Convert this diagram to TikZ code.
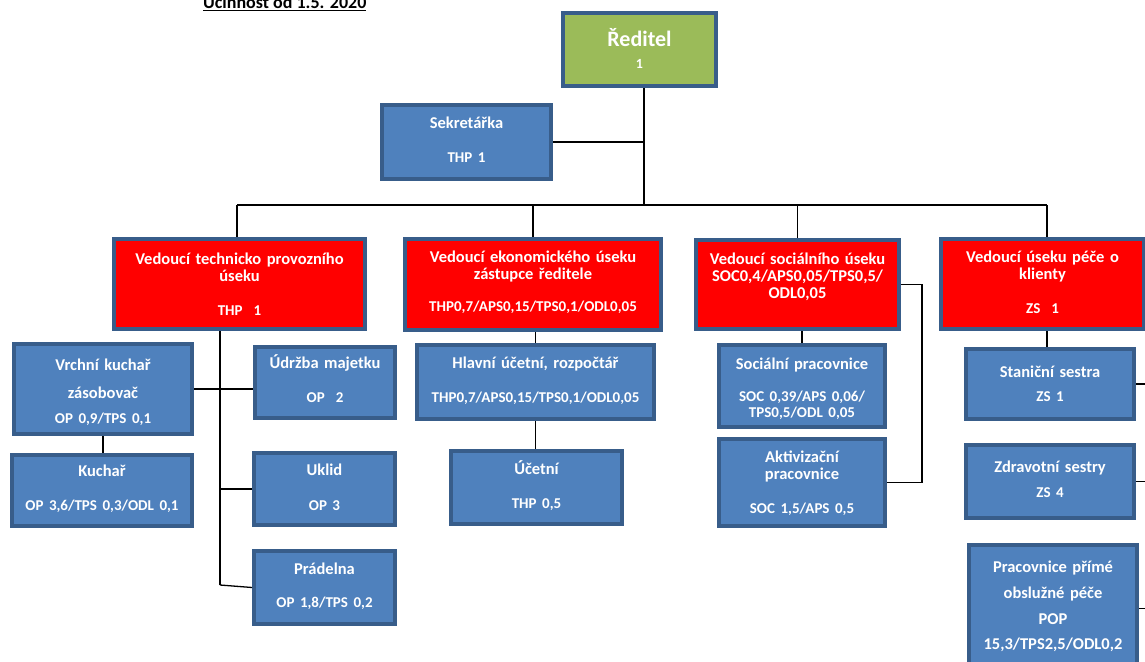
\documentclass[tikz,border=0pt]{standalone}
\usepackage{fontspec}
\setmainfont{Carlito}
\usepackage{tikz}
\definecolor{unitblue}{RGB}{79,129,189}
\definecolor{rimblue}{RGB}{56,93,138}
\definecolor{chiefgreen}{RGB}{155,187,89}
\newcommand{\detail}[1]{{\fontsize{15}{17}\selectfont #1}}

\begin{document}
\begin{tikzpicture}[x=1pt,y=-1pt,
  unit/.style={draw=rimblue, line width=4pt, fill=unitblue, text=white,
    anchor=north west, inner sep=0pt, align=center, text height=23pt,
    font=\fontsize{16.5}{17}\selectfont\bfseries},
  head/.style={unit, fill=red},
  chief/.style={unit, fill=chiefgreen},
  link/.style={line width=1.3pt}]
\useasboundingbox (0,0) rectangle (1145,661);

\node[anchor=base west, inner sep=0pt, font=\fontsize{18}{20}\selectfont\bfseries] (start) at (203,9) {\underline{Účinnost od 1.5. 2020}};

\node[chief, text width=153pt, text height=34pt, text depth=39pt, font=\fontsize{14}{22}\selectfont\bfseries] (dir) at (561,11) {{\fontsize{22}{22}\selectfont Ředitel}\\1};
\node[unit, text width=169pt, text depth=51pt] (sek) at (380,103) {Sekretářka\\[17pt]\detail{THP 1}};

\node[head, text width=251pt, text height=25pt, text depth=65pt] (tech) at (112,237) {Vedoucí technicko provozního\\úseku\\[17pt]\detail{THP~~1}};
\node[head, text width=256pt, text depth=68pt] (eko) at (403,237) {Vedoucí ekonomického úseku\\zástupce ředitele\\[15pt]\detail{THP0,7/APS0,15/TPS0,1/ODL0,05}};
\node[head, text width=203pt, text height=24pt, text depth=65pt] (soc) at (694,238) {Vedoucí sociálního úseku\\SOC0,4/APS0,05/TPS0,5/\\ODL0,05};
\node[head, text width=203pt, text depth=67pt] (pece) at (939,237) {Vedoucí úseku péče o\\klienty\\[17pt]\detail{ZS~~1}};

\node[unit, text width=178pt, text height=26pt, text depth=64pt] (vrchni) at (12,342) {Vrchní kuchař\\[11pt]zásobovač\\[8pt]\detail{OP 0,9/TPS 0,1}};
\node[unit, text width=180pt, text height=21pt, text depth=50pt] (kuchar) at (10,453) {Kuchař\\[17pt]\detail{OP 3,6/TPS 0,3/ODL 0,1}};
\node[unit, text width=140pt, text height=21pt, text depth=50pt] (udrzba) at (253,345) {Údržba majetku\\[17pt]\detail{OP~~2}};
\node[unit, text width=141pt, text height=22pt, text depth=50pt] (uklid) at (252,451) {Uklid\\[18pt]\detail{OP 3}};
\node[unit, text width=141pt, text depth=50pt] (pradelna) at (252,549) {Prádelna\\[16pt]\detail{OP 1,8/TPS 0,2}};

\node[unit, text width=237pt, text depth=51pt] (hlavni) at (415,343) {Hlavní účetní, rozpočtář\\[17pt]\detail{THP0,7/APS0,15/TPS0,1/ODL0,05}};
\node[unit, text width=171pt, text depth=50pt] (ucetni) at (449,449) {Účetní\\[17pt]\detail{THP 0,5}};

\node[unit, text width=166pt, text height=24pt, text depth=58pt] (socprac) at (717,343) {Sociální pracovnice\\[15pt]\detail{SOC 0,39/APS 0,06/}\\[-1pt]\detail{TPS0,5/ODL 0,05}};
\node[unit, text width=166pt, text depth=64pt] (aktiv) at (717,437) {Aktivizační\\pracovnice\\[17pt]\detail{SOC 1,5/APS 0,5}};

\node[unit, text width=168pt, text height=28pt, text depth=42pt] (stanicni) at (964,347) {Staniční sestra\\[7pt]\detail{ZS 1}};
\node[unit, text width=168pt, text height=27pt, text depth=46pt] (zdravotni) at (964,443) {Zdravotní sestry\\[8pt]\detail{ZS 4}};
\node[unit, text width=168pt, text height=27pt, text depth=100pt] (pop) at (967,543) {Pracovnice přímé\\[9pt]obslužné péče\\[9pt]POP\\[8pt]15,3/TPS2,5/ODL0,2};

\coordinate (bus) at (644,205);
\coordinate (busL) at (237,205);
\coordinate (busR) at (1047,205);
\coordinate (spine) at (220,585);
\coordinate (cut) at (1150,0);

\draw[link] (dir.south -| bus) -- (bus);
\draw[link] (sek.east) -- (sek.east -| bus);
\draw[link] (busL) -- (busR);
\draw[link] (busL) -- (busL |- tech.north);
\draw[link] (eko.north |- bus) -- (eko.north);
\draw[link] (soc.north |- bus) -- (soc.north);
\draw[link] (busR) -- (busR |- pece.north);

\draw[link] (spine |- tech.south) -- (spine);
\draw[link] (vrchni.east) -- (vrchni.east -| udrzba.west);
\draw[link] (spine |- uklid.west) -- (uklid.west);
\draw[link] (spine) -- (pradelna.west);
\draw[link] (vrchni.south) -- (vrchni.south |- kuchar.north);

\draw[link] (hlavni.north |- eko.south) -- (hlavni.north);
\draw[link] (hlavni.south) -- (hlavni.south |- ucetni.north);

\draw[link] (socprac.north |- soc.south) -- (socprac.north);
\draw[link] (soc.east) -- ++(21,0) |- (aktiv.east);

\draw[link] (pece.south -| busR) -- (stanicni.north -| busR);
\foreach \n in {pece,stanicni,zdravotni,pop}
  \draw[link] (\n.east) -- (\n.east -| cut);
\end{tikzpicture}
\end{document}
